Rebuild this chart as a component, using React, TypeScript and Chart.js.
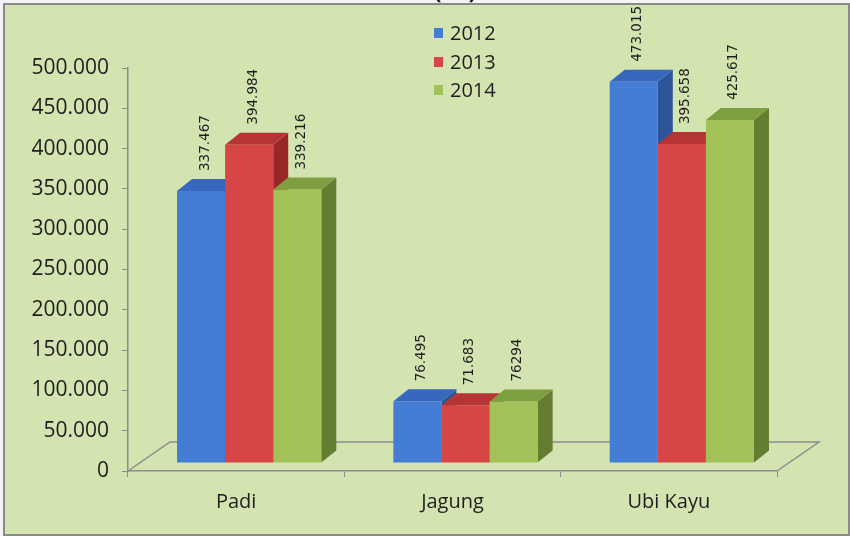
import React, { useEffect, useRef } from "react";
import { Chart, registerables } from "chart.js";

Chart.register(...registerables);

// ---- data ----
const categories = ["Padi", "Jagung", "Ubi Kayu"];
const seriesNames = ["2012", "2013", "2014"];
const values2012 = [337467, 76495, 473015];
const values2013 = [394984, 71683, 395658];
const values2014 = [339216, 76294, 425617];
const labels2012 = ["337.467", "76.495", "473.015"];
const labels2013 = ["394.984", "71.683", "395.658"];
const labels2014 = ["339.216", "76294", "425.617"];
const yMin = 0;
const yMax = 500000;
const yStep = 50000;
const titleText = "(Ha)";

// ---- styles ----
const frontColors = ["#457cd4", "#d64646", "#a2c158"];
const topColors = ["#3768bd", "#b73434", "#7f9e40"];
const sideColors = ["#2c559c", "#982828", "#657d31"];
const axisColor = "#8c8c8c";
const textColor = "#1e1e1e";

const BAR_DX = 13;
const BAR_DY = -8;
const DEPTH_X = 15;
const DEPTH_Y = -12;
const FLOOR_X = 42;
const FLOOR_Y = -29;

const fmt = (v: number) => String(v).replace(/\B(?=(\d{3})+(?!\d))/g, ".");

const allLabels = [labels2012, labels2013, labels2014];

const threeDPlugin = {
  id: "threeD",
  beforeDatasetsDraw(chart: any) {
    const { ctx, chartArea: a } = chart;
    ctx.save();
    ctx.strokeStyle = axisColor;
    ctx.lineWidth = 1.5;
    ctx.beginPath();
    ctx.moveTo(a.left, a.bottom);
    ctx.lineTo(a.left + FLOOR_X, a.bottom + FLOOR_Y);
    ctx.lineTo(a.right + FLOOR_X, a.bottom + FLOOR_Y);
    ctx.lineTo(a.right, a.bottom);
    ctx.stroke();
    ctx.restore();

    ctx.save();
    ctx.translate(BAR_DX, BAR_DY);
    const n = chart.data.labels.length;
    const nd = chart.data.datasets.length;
    for (let i = 0; i < n; i++) {
      for (let d = 0; d < nd; d++) {
        const el = chart.getDatasetMeta(d).data[i];
        const { x, y, base, width } = el.getProps(["x", "y", "base", "width"], true);
        const l = x - width / 2;
        const r = x + width / 2;
        ctx.fillStyle = sideColors[d];
        ctx.beginPath();
        ctx.moveTo(r, y);
        ctx.lineTo(r + DEPTH_X, y + DEPTH_Y);
        ctx.lineTo(r + DEPTH_X, base + DEPTH_Y);
        ctx.lineTo(r, base);
        ctx.closePath();
        ctx.fill();
        ctx.fillStyle = topColors[d];
        ctx.beginPath();
        ctx.moveTo(l, y);
        ctx.lineTo(r, y);
        ctx.lineTo(r + DEPTH_X, y + DEPTH_Y);
        ctx.lineTo(l + DEPTH_X, y + DEPTH_Y);
        ctx.closePath();
        ctx.fill();
      }
    }
  },
  afterDatasetsDraw(chart: any) {
    const { ctx } = chart;
    const n = chart.data.labels.length;
    const nd = chart.data.datasets.length;
    ctx.fillStyle = textColor;
    ctx.font = '13.5px "DejaVu Sans"';
    ctx.textAlign = "left";
    ctx.textBaseline = "middle";
    for (let i = 0; i < n; i++) {
      for (let d = 0; d < nd; d++) {
        const el = chart.getDatasetMeta(d).data[i];
        const { x, y } = el.getProps(["x", "y"], true);
        ctx.save();
        ctx.translate(x + 4, y - 20);
        ctx.rotate(-Math.PI / 2);
        ctx.fillText(allLabels[d][i], 0, 0);
        ctx.restore();
      }
    }
    ctx.restore();
  },
  afterDraw(chart: any) {
    const { ctx } = chart;
    const ys = [33, 62, 90];
    ctx.save();
    ctx.font = '20px "Open Sans"';
    ctx.textAlign = "left";
    ctx.textBaseline = "middle";
    chart.data.datasets.forEach((ds: any, d: number) => {
      ctx.fillStyle = frontColors[d];
      ctx.fillRect(434, ys[d] - 5, 9, 10);
      ctx.fillStyle = textColor;
      ctx.fillText(ds.label, 450, ys[d] + 1);
    });
    ctx.restore();
  },
};

export default function App() {
  const ref = useRef<HTMLCanvasElement | null>(null);
  useEffect(() => {
    if (!ref.current) return;
    Chart.defaults.font.family = '"Open Sans", sans-serif';
    const seriesValues = [values2012, values2013, values2014];
    const chart = new Chart(ref.current, {
      type: "bar",
      data: {
        labels: categories,
        datasets: seriesNames.map((name, d) => ({
          label: name,
          data: seriesValues[d],
          backgroundColor: frontColors[d],
          borderWidth: 0,
          categoryPercentage: 0.667,
          barPercentage: 1,
          clip: false as any,
        })),
      },
      options: {
        responsive: false,
        animation: false,
        events: [],
        layout: { padding: { top: 68, right: 73, bottom: 0, left: 0 } },
        plugins: { legend: { display: false }, tooltip: { enabled: false } },
        scales: {
          x: {
            grid: { display: true, drawOnChartArea: false, tickLength: 6, color: axisColor, offset: true },
            border: { display: true, color: axisColor, width: 1.5 },
            ticks: { font: { size: 20 }, color: textColor, padding: 13 },
            afterFit: (s: any) => {
              s.height = 65;
            },
          },
          y: {
            min: yMin,
            max: yMax,
            ticks: {
              stepSize: yStep,
              font: { size: 21 },
              color: textColor,
              padding: 13,
              callback: (v: any) => fmt(Number(v)),
            },
            grid: { display: true, drawOnChartArea: false, tickLength: 6, color: axisColor },
            border: { display: true, color: axisColor, width: 1.5 },
            afterFit: (s: any) => {
              s.width = 128;
            },
          },
        },
      },
      plugins: [threeDPlugin],
    });
    return () => chart.destroy();
  }, []);

  return (
    <div
      style={{
        position: "fixed",
        left: 0,
        top: 0,
        width: 850,
        height: 536,
        background: "#f4f4f4",
        overflow: "hidden",
      }}
    >
      <div
        style={{
          position: "absolute",
          left: 0,
          width: 910,
          top: -22,
          textAlign: "center",
          font: 'bold 20px "Open Sans"',
          color: "#111",
        }}
      >
        {titleText}
      </div>
      <div
        style={{
          position: "absolute",
          left: 3,
          top: 3,
          width: 847,
          height: 533,
          boxSizing: "border-box",
          border: "2px solid #8a8a8a",
          background: "#d3e4b0",
        }}
      />
      <canvas
        ref={ref}
        width={850}
        height={536}
        style={{ position: "absolute", left: 0, top: 0, width: 850, height: 536 }}
      />
    </div>
  );
}
